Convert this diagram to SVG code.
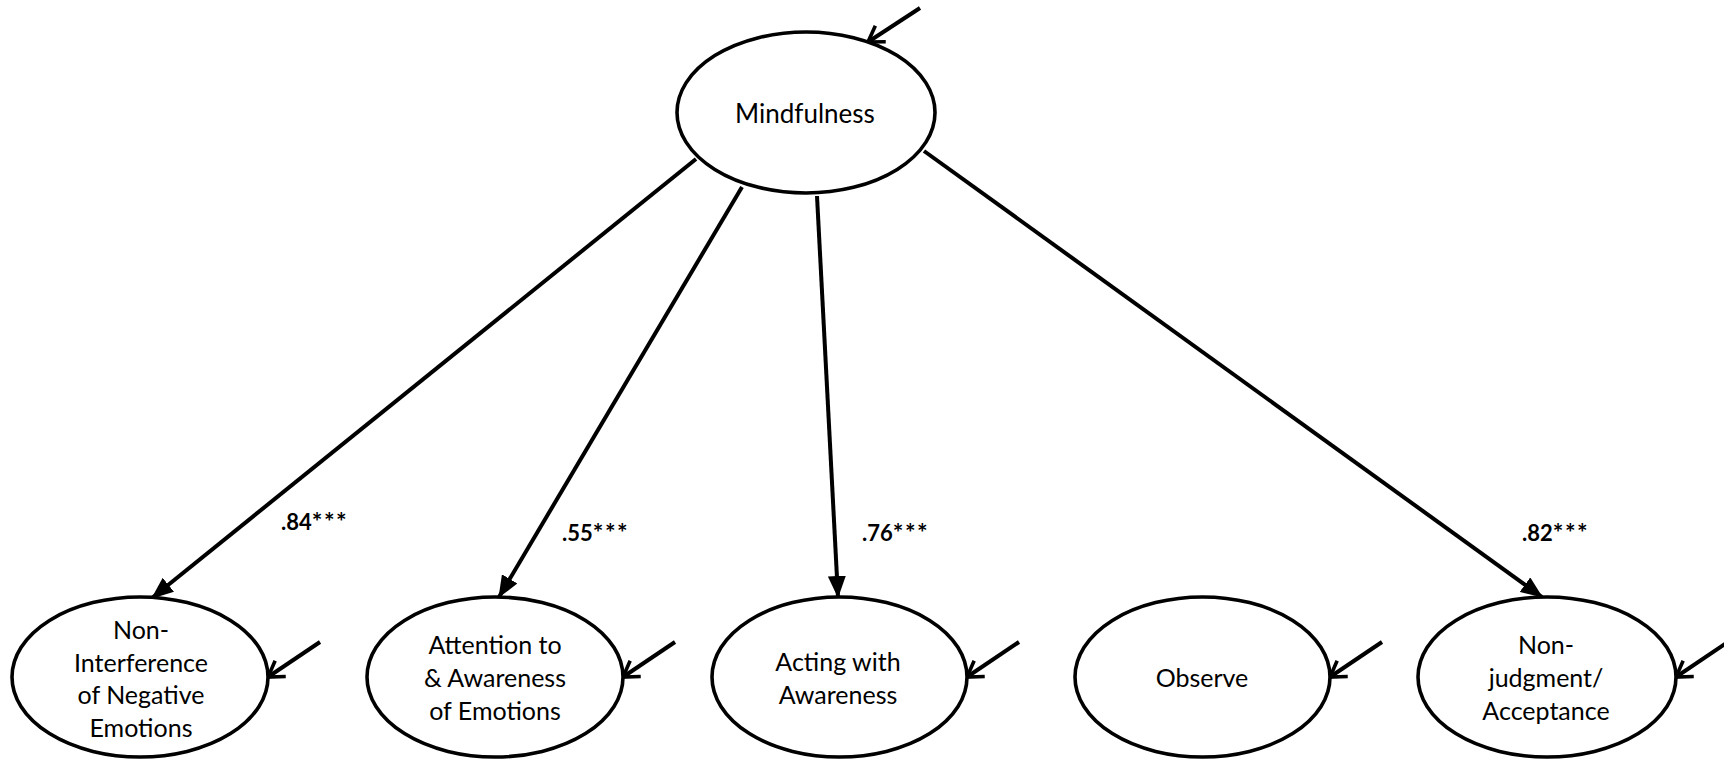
<svg xmlns="http://www.w3.org/2000/svg" width="1724" height="760" viewBox="0 0 1724 760">
  <style>
    .node ellipse { fill: #ffffff; stroke: #000000; stroke-width: 3.6; }
    .node text { font-family: Lato, "Open Sans", "Liberation Sans", sans-serif; font-size: 25px; fill: #000000; text-anchor: middle; }
    #mindfulness text { font-size: 26px; }
    .path { stroke: #000000; stroke-width: 4; fill: none; marker-end: url(#solid); }
    .resid { stroke: #000000; stroke-width: 4; fill: none; marker-end: url(#open); }
    .coef { font-family: Lato, "Open Sans", "Liberation Sans", sans-serif; font-size: 22px; font-weight: bold; fill: #000000; }
    .stars { font-size: 25px; letter-spacing: 1.5px; }
  </style>
  <defs>
    <marker id="solid" markerUnits="userSpaceOnUse" viewBox="0 0 22 18" refX="21" refY="9" markerWidth="22" markerHeight="18" orient="auto">
      <path d="M0,0 L22,9 L0,18 z" fill="#000000"/>
    </marker>
    <marker id="open" markerUnits="userSpaceOnUse" viewBox="-18 -12 20 24" refX="0" refY="0" markerWidth="20" markerHeight="24" orient="auto">
      <path d="M-15,-9.5 L0,0 L-15,9.5" fill="none" stroke="#000000" stroke-width="3.6"/>
    </marker>
  </defs>

  <rect width="1724" height="760" fill="#ffffff"/>

  <!-- loadings and residual arrows -->
  <g id="connectors">
    <line class="path" x1="696" y1="159" x2="152" y2="598"/>
    <line class="path" x1="742" y1="187" x2="499" y2="597"/>
    <line class="path" x1="817" y1="196" x2="838" y2="597"/>
    <line class="path" x1="924" y1="151" x2="1542" y2="597"/>

    <line class="resid" x1="920" y1="8" x2="868" y2="42"/>
    <line class="resid" x1="320" y1="642" x2="268" y2="677"/>
    <line class="resid" x1="675" y1="642" x2="623" y2="677"/>
    <line class="resid" x1="1019" y1="642" x2="967" y2="677"/>
    <line class="resid" x1="1382" y1="642" x2="1330" y2="677"/>
    <line class="resid" x1="1728" y1="642" x2="1676" y2="677"/>
  </g>

  <g id="coefficients">
    <text class="coef" x="281" y="530">.84<tspan class="stars" dy="1">***</tspan></text>
    <text class="coef" x="562" y="541">.55<tspan class="stars" dy="1">***</tspan></text>
    <text class="coef" x="862" y="541">.76<tspan class="stars" dy="1">***</tspan></text>
    <text class="coef" x="1522" y="541">.82<tspan class="stars" dy="1">***</tspan></text>
  </g>

  <g id="mindfulness" class="node">
    <ellipse cx="806" cy="112.5" rx="129" ry="80.5"/>
    <text x="805" y="123">Mindfulness</text>
  </g>

  <g id="non-interference" class="node">
    <ellipse cx="140" cy="677" rx="128" ry="80"/>
    <text x="141" y="639">Non-</text>
    <text x="141" y="672">Interference</text>
    <text x="141" y="704">of Negative</text>
    <text x="141" y="737">Emotions</text>
  </g>

  <g id="attention-awareness" class="node">
    <ellipse cx="495" cy="677" rx="128" ry="80"/>
    <text x="495" y="654">Attention to</text>
    <text x="495" y="687">&amp; Awareness</text>
    <text x="495" y="720">of Emotions</text>
  </g>

  <g id="acting-with-awareness" class="node">
    <ellipse cx="839.5" cy="677" rx="127.5" ry="80"/>
    <text x="838" y="671">Acting with</text>
    <text x="838" y="704">Awareness</text>
  </g>

  <g id="observe" class="node">
    <ellipse cx="1202.5" cy="677" rx="127.5" ry="80"/>
    <text x="1202" y="687">Observe</text>
  </g>

  <g id="non-judgment" class="node">
    <ellipse cx="1547" cy="677" rx="129" ry="80"/>
    <text x="1546" y="654">Non-</text>
    <text x="1546" y="687">judgment/</text>
    <text x="1546" y="720">Acceptance</text>
  </g>
</svg>
